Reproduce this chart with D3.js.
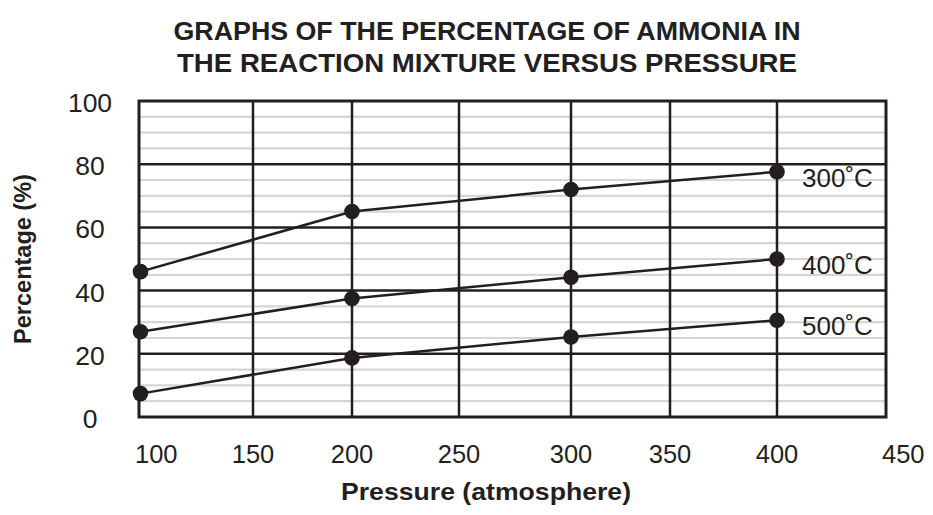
<!DOCTYPE html>
<html><head><meta charset="utf-8">
<script src="https://cdn.jsdelivr.net/npm/d3@7"></script>
<style>body{margin:0;background:#fff}svg{display:block}</style>
</head><body>
<script>
const pressures = [100, 200, 300, 400];
const seriesNames = ["300˚C", "400˚C", "500˚C"];
const values300 = [46, 65, 72, 77.6];
const values400 = [27, 37.5, 44.2, 50];
const values500 = [7.4, 18.7, 25.3, 30.6];
const xTicks = [100, 150, 200, 250, 300, 350, 400, 450];
const yTicks = [0, 20, 40, 60, 80, 100];
const titleLines = ["GRAPHS OF THE PERCENTAGE OF AMMONIA IN", "THE REACTION MIXTURE VERSUS PRESSURE"];

const W = 933, H = 515;
const M = {left: 139, right: 886, top: 101, bottom: 417};
const ink = "#231f20";
const svg = d3.select("body").append("svg").attr("width", W).attr("height", H)
  .style("font-family", "'Liberation Sans', Arial, sans-serif");

// the printed grid is hand-spaced, so the x scale is piecewise linear over the tick values
const xGridPx = [139, 253, 352, 459, 571, 670, 777, 886];
const x = d3.scaleLinear().domain(xTicks).range(xGridPx);
const y = d3.scaleLinear().domain([0, 100]).range([M.bottom, M.top]);

// minor grid
const minor = d3.range(5, 100, 5).filter(v => v % 20 !== 0);
svg.append("g").selectAll("line").data(minor).join("line")
  .attr("x1", M.left).attr("x2", M.right)
  .attr("y1", d => y(d)).attr("y2", d => y(d))
  .attr("stroke", "#d6d6d6").attr("stroke-width", 2.2);

// major grid
svg.append("g").selectAll("line").data(yTicks.filter(d => d > 0 && d < 100)).join("line")
  .attr("x1", M.left).attr("x2", M.right)
  .attr("y1", d => y(d)).attr("y2", d => y(d))
  .attr("stroke", ink).attr("stroke-width", 2.5);
svg.append("g").selectAll("line").data(xTicks.filter(d => d > 100 && d < 450)).join("line")
  .attr("x1", d => x(d)).attr("x2", d => x(d))
  .attr("y1", M.top).attr("y2", M.bottom)
  .attr("stroke", ink).attr("stroke-width", 2.5);

// frame
svg.append("rect").attr("x", M.left).attr("y", M.top)
  .attr("width", M.right - M.left).attr("height", M.bottom - M.top)
  .attr("fill", "none").attr("stroke", ink).attr("stroke-width", 3);

// series
const series = [values300, values400, values500];
const line = d3.line().x((d, i) => x(pressures[i]) + (i === 0 ? 1.5 : 0)).y(d => y(d));
series.forEach((vals, si) => {
  svg.append("path").datum(vals).attr("d", line)
    .attr("fill", "none").attr("stroke", ink).attr("stroke-width", 2.5);
  svg.append("g").selectAll("circle").data(vals).join("circle")
    .attr("cx", (d, i) => x(pressures[i]) + (i === 0 ? 1.5 : 0)).attr("cy", d => y(d)).attr("r", 7.8)
    .attr("fill", ink);
  svg.append("text").attr("x", x(pressures[3]) + 25).attr("y", y(vals[3]) + 15)
    .attr("font-size", 26).attr("fill", ink).text(seriesNames[si]);
});

// x tick labels
svg.append("g").selectAll("text").data(xTicks).join("text")
  .attr("x", (d, i) => (i === 0 || i === xTicks.length - 1) ? x(d) - 4 : x(d))
  .attr("y", 463)
  .attr("text-anchor", (d, i) => (i === 0 || i === xTicks.length - 1) ? "start" : "middle")
  .attr("font-size", 25.5).attr("fill", ink).text(d => d);

// y tick labels
svg.append("g").selectAll("text").data(yTicks).join("text")
  .attr("x", 90).attr("y", d => y(d) + 11).attr("text-anchor", "middle")
  .attr("font-size", 26.5).attr("fill", ink).text(d => d);

// axis titles
svg.append("text").attr("x", 486).attr("y", 500).attr("text-anchor", "middle")
  .attr("font-size", 24).attr("font-weight", "bold").attr("fill", ink)
  .attr("textLength", 290).attr("lengthAdjust", "spacingAndGlyphs")
  .text("Pressure (atmosphere)");
svg.append("text").attr("transform", "translate(31,259) rotate(-90)").attr("text-anchor", "middle")
  .attr("font-size", 23.5).attr("font-weight", "bold").attr("fill", ink)
  .text("Percentage (%)");

// title
svg.append("g").selectAll("text").data(titleLines).join("text")
  .attr("x", 487).attr("y", (d, i) => 40 + i * 32).attr("text-anchor", "middle")
  .attr("font-size", 25).attr("font-weight", "bold").attr("fill", ink)
  .attr("textLength", (d, i) => i === 0 ? 627 : 620).attr("lengthAdjust", "spacingAndGlyphs")
  .text(d => d);
</script>
</body></html>
